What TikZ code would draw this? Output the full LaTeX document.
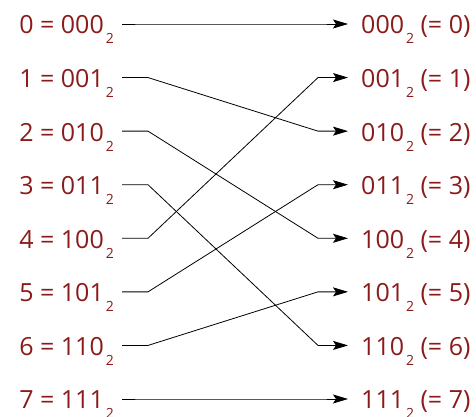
\documentclass[tikz,border=0pt]{standalone}
\usepackage{fontspec}
\setmainfont{Open Sans}
\usetikzlibrary{arrows.meta}
\definecolor{binred}{RGB}{139,26,26}
\newcommand{\bsub}[1]{\hspace{2pt}\raisebox{-10pt}{\fontsize{14pt}{14pt}\selectfont #1}}

\begin{document}
\begin{tikzpicture}[x=1pt,y=-1pt,
    num/.style={text=binred, font=\fontsize{25pt}{25pt}\selectfont,
      text height=22pt, text depth=2pt, inner ysep=0pt},
    lnum/.style={num, anchor=east, inner xsep=8pt},
    rnum/.style={num, anchor=west, inner xsep=13pt},
    wire/.style={line width=0.8pt, -{Stealth[length=15pt,width=9pt,inset=3pt]}}]
  \useasboundingbox (0,0) rectangle (476,417);
  \def\dy{53.57}

  % NUMBERS
  \foreach \i/\b in {0/000,1/001,2/010,3/011,4/100,5/101,6/110,7/111} {
    \node[lnum] (l\i) at (122,{24+\i*\dy}) {\i{} = \b\bsub{2}};
    \node[rnum] (r\i) at (348,{24+\i*\dy}) {\b\bsub{2} (= \i)};
  }

  % WIRES
  \foreach \i/\j in {0/0,1/2,2/4,3/6,4/1,5/3,6/5,7/7}
    \draw[wire] (l\i.east) -- ++(26,0) -- ([xshift=-30pt]r\j.west) -- (r\j.west);
\end{tikzpicture}
\end{document}
